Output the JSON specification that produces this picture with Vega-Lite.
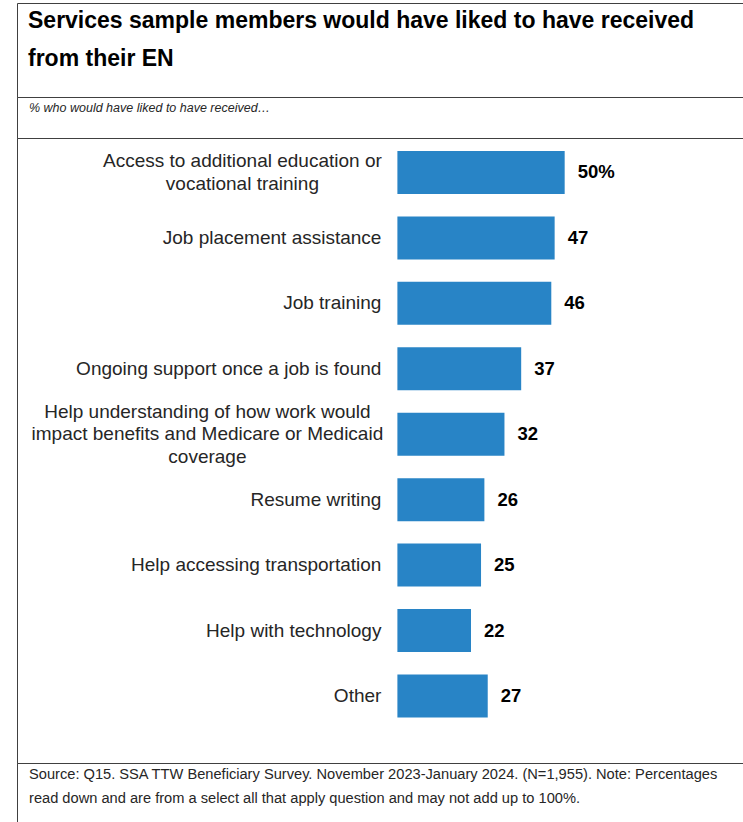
{
  "$schema": "https://vega.github.io/schema/vega-lite/v6.json",
  "padding": {"left": 16, "top": 2, "right": 1, "bottom": 0},
  "spacing": 0,
  "bounds": "flush",
  "background": "white",
  "config": {
    "view": {"stroke": "#404040", "strokeWidth": 1},
    "font": "Liberation Sans",
    "text": {"font": "Liberation Sans"}
  },
  "vconcat": [
    {
      "width": 726,
      "height": 94,
      "data": {"values": [{"t": "Services sample members would have liked to have received\nfrom their EN"}]},
      "mark": {"type": "text", "align": "left", "baseline": "alphabetic", "lineBreak": "\n", "lineHeight": 38, "fontSize": 23, "fontWeight": "bold", "color": "#000000"},
      "encoding": {"text": {"field": "t"}, "x": {"value": 11}, "y": {"value": 25}}
    },
    {
      "width": 726,
      "height": 41,
      "data": {"values": [{"t": "% who would have liked to have received…"}]},
      "mark": {"type": "text", "align": "left", "baseline": "alphabetic", "fontSize": 12.5, "fontStyle": "italic", "color": "#262626"},
      "encoding": {"text": {"field": "t"}, "x": {"value": 12}, "y": {"value": 15}}
    },
    {
      "width": 726,
      "height": 625,
      "data": {"values": [
        {"service": "Access to additional education or|vocational training", "pct": 50, "txt": "50%"},
        {"service": "Job placement assistance", "pct": 47, "txt": "47"},
        {"service": "Job training", "pct": 46, "txt": "46"},
        {"service": "Ongoing support once a job is found", "pct": 37, "txt": "37"},
        {"service": "Help understanding of how work would|impact benefits and Medicare or Medicaid|coverage", "pct": 32, "txt": "32"},
        {"service": "Resume writing", "pct": 26, "txt": "26"},
        {"service": "Help accessing transportation", "pct": 25, "txt": "25"},
        {"service": "Help with technology", "pct": 22, "txt": "22"},
        {"service": "Other", "pct": 27, "txt": "27"}
      ]},
      "encoding": {
        "y": {"field": "service", "type": "nominal", "sort": null, "axis": null,
              "scale": {"paddingInner": 0.343, "paddingOuter": 0.447, "align": 0.222}}
      },
      "layer": [
        {
          "mark": {"type": "bar", "color": "#2884C6"},
          "encoding": {
            "x": {"field": "pct", "type": "quantitative", "axis": null,
                  "scale": {"domain": [-113.7, 103.3], "nice": false, "zero": false}}
          }
        },
        {
          "mark": {"type": "text", "align": "left", "dx": 13, "fontWeight": "bold", "fontSize": 18.5, "color": "#000000"},
          "encoding": {
            "x": {"field": "pct", "type": "quantitative"},
            "text": {"field": "txt"}
          }
        },
        {
          "transform": [{"filter": "length(split(datum.service, '|')) == 1"}],
          "mark": {"type": "text", "align": "right", "dx": -16, "fontSize": 19, "color": "#262626"},
          "encoding": {
            "x": {"datum": 0, "type": "quantitative"},
            "text": {"field": "service"}
          }
        },
        {
          "transform": [{"filter": "length(split(datum.service, '|')) == 2"}],
          "mark": {"type": "text", "align": "center", "dx": -155, "dy": -11.25, "fontSize": 19, "lineBreak": "|", "lineHeight": 22.5, "color": "#262626"},
          "encoding": {
            "x": {"datum": 0, "type": "quantitative"},
            "text": {"field": "service"}
          }
        },
        {
          "transform": [{"filter": "length(split(datum.service, '|')) == 3"}],
          "mark": {"type": "text", "align": "center", "dx": -190, "dy": -22.5, "fontSize": 19, "lineBreak": "|", "lineHeight": 22.5, "color": "#262626"},
          "encoding": {
            "x": {"datum": 0, "type": "quantitative"},
            "text": {"field": "service"}
          }
        }
      ]
    },
    {
      "width": 726,
      "height": 62,
      "data": {"values": [{"t": "Source: Q15. SSA TTW Beneficiary Survey. November 2023-January 2024. (N=1,955). Note: Percentages\nread down and are from a select all that apply question and may not add up to 100%."}]},
      "mark": {"type": "text", "align": "left", "baseline": "alphabetic", "lineBreak": "\n", "lineHeight": 24, "fontSize": 14.65, "color": "#262626"},
      "encoding": {"text": {"field": "t"}, "x": {"value": 12}, "y": {"value": 16}}
    }
  ]
}
